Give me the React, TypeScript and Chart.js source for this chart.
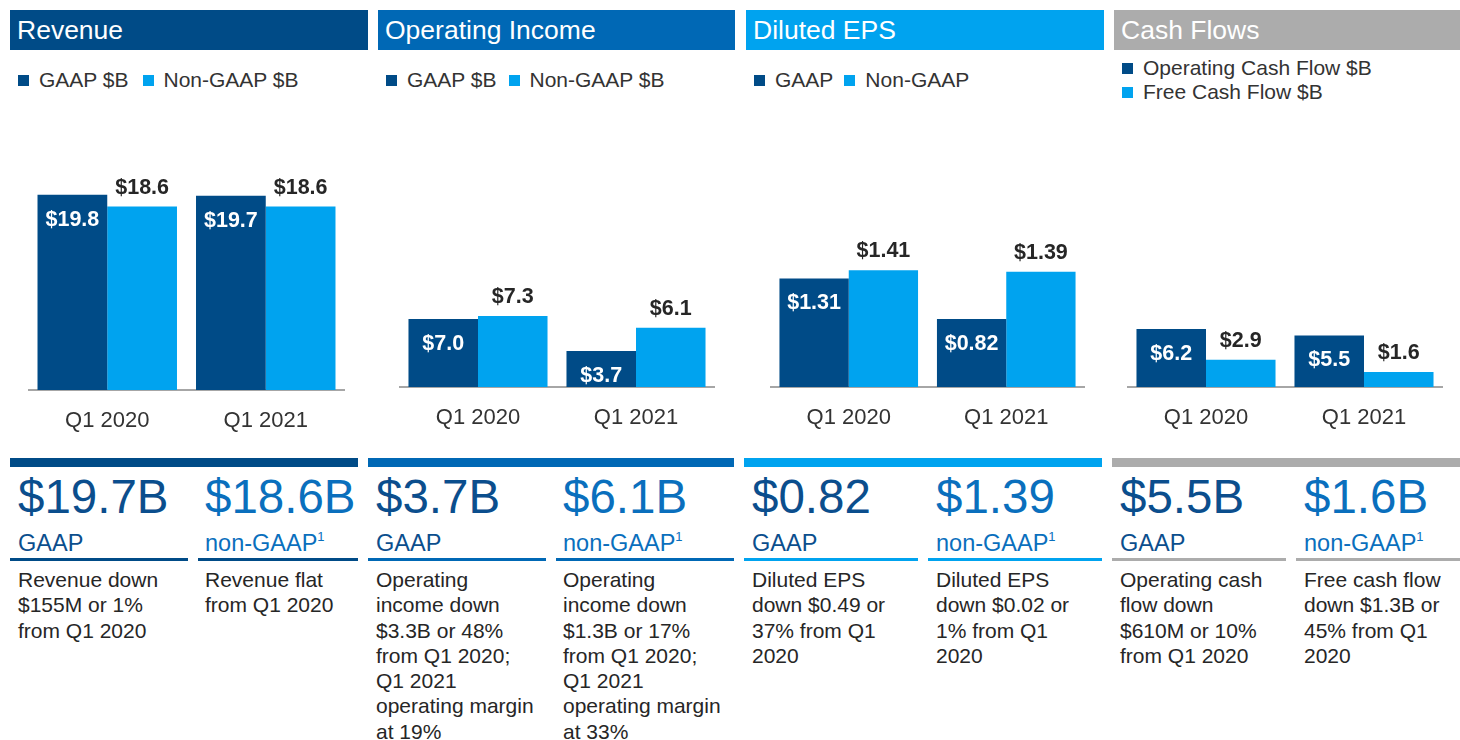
import React, { useEffect, useRef } from 'react';
import { Chart, registerables } from 'chart.js';

Chart.register(...registerables);

// ---------- data ----------
const quarters = ['Q1 2020', 'Q1 2021'];
const revenueGaap = [19.8, 19.7];
const revenueNonGaap = [18.6, 18.6];
const opIncomeGaap = [7.0, 3.7];
const opIncomeNonGaap = [7.3, 6.1];
const epsGaap = [1.31, 0.82];
const epsNonGaap = [1.41, 1.39];
const operatingCashFlow = [6.2, 5.5];
const freeCashFlow = [2.9, 1.6];

const panelTitles = ['Revenue', 'Operating Income', 'Diluted EPS', 'Cash Flows'];
const legendRevenue = ['GAAP $B', 'Non-GAAP $B'];
const legendOpIncome = ['GAAP $B', 'Non-GAAP $B'];
const legendEps = ['GAAP', 'Non-GAAP'];
const legendCash = ['Operating Cash Flow $B', 'Free Cash Flow $B'];

const headlineValues = ['$19.7B', '$18.6B', '$3.7B', '$6.1B', '$0.82', '$1.39', '$5.5B', '$1.6B'];
const descRevenueGaap = ['Revenue down', '$155M or 1%', 'from Q1 2020'];
const descRevenueNonGaap = ['Revenue flat', 'from Q1 2020'];
const descOpGaap = ['Operating', 'income down', '$3.3B or 48%', 'from Q1 2020;', 'Q1 2021', 'operating margin', 'at 19%'];
const descOpNonGaap = ['Operating', 'income down', '$1.3B or 17%', 'from Q1 2020;', 'Q1 2021', 'operating margin', 'at 33%'];
const descEpsGaap = ['Diluted EPS', 'down $0.49 or', '37% from Q1', '2020'];
const descEpsNonGaap = ['Diluted EPS', 'down $0.02 or', '1% from Q1', '2020'];
const descCashGaap = ['Operating cash', 'flow down', '$610M or 10%', 'from Q1 2020'];
const descCashNonGaap = ['Free cash flow', 'down $1.3B or', '45% from Q1', '2020'];

// ---------- styles ----------
const DARK = '#004B87';
const LIGHT = '#00A3EF';
const MID = '#0068B5';
const GRAY = '#ACACAC';
const GAAP_TEXT = '#0B4E8D';
const NONGAAP_TEXT = '#0A6FBD';
const FONT = "'Liberation Sans', Arial, Helvetica, sans-serif";

const valueLabelPlugin = {
  id: 'valueLabels',
  afterDatasetsDraw(chart: any, _args: any, opts: any) {
    const ctx = chart.ctx;
    const digits = opts && opts.digits != null ? opts.digits : 1;
    ctx.save();
    ctx.font = `bold 21.5px ${FONT}`;
    ctx.textAlign = 'center';
    ctx.textBaseline = 'middle';
    chart.data.datasets.forEach((ds: any, di: number) => {
      const meta = chart.getDatasetMeta(di);
      meta.data.forEach((bar: any, i: number) => {
        const text = '$' + Number(ds.data[i]).toFixed(digits);
        if (di === 0) {
          ctx.fillStyle = '#FFFFFF';
          ctx.fillText(text, bar.x, bar.y + 25);
        } else {
          ctx.fillStyle = '#262626';
          ctx.fillText(text, bar.x, bar.y - 19);
        }
      });
    });
    ctx.restore();
  },
};

type BarProps = {
  left: number;
  width: number;
  baseline: number;
  yMax: number;
  digits: number;
  gaap: number[];
  nonGaap: number[];
  gaapLabel: string;
  nonGaapLabel: string;
};

const CANVAS_TOP = 120;
const PAD_TOP = 30;
const AXIS_H = 50;

function BarChart(p: BarProps) {
  const ref = useRef<HTMLCanvasElement | null>(null);
  const height = p.baseline - CANVAS_TOP + AXIS_H;
  useEffect(() => {
    if (!ref.current) return;
    const chart = new Chart(ref.current, {
      type: 'bar',
      data: {
        labels: quarters,
        datasets: [
          { label: p.gaapLabel, data: p.gaap, backgroundColor: DARK, categoryPercentage: 0.88, barPercentage: 1 },
          { label: p.nonGaapLabel, data: p.nonGaap, backgroundColor: LIGHT, categoryPercentage: 0.88, barPercentage: 1 },
        ],
      },
      options: {
        responsive: false,
        maintainAspectRatio: false,
        animation: false,
        layout: { padding: { top: PAD_TOP, left: 0, right: 0, bottom: 0 } },
        plugins: {
          legend: { display: false },
          tooltip: { enabled: false },
          valueLabels: { digits: p.digits },
        } as any,
        scales: {
          x: {
            grid: { display: false },
            border: { display: true, color: '#A6A6A6', width: 2 },
            ticks: { font: { family: FONT, size: 22 }, color: '#333333', padding: 10 },
            afterFit: (s: any) => {
              s.height = AXIS_H;
            },
          },
          y: { display: false, min: 0, max: p.yMax },
        },
      },
      plugins: [valueLabelPlugin as any],
    });
    return () => chart.destroy();
  }, []);
  return (
    <canvas
      ref={ref}
      width={p.width}
      height={height}
      style={{ position: 'absolute', left: p.left, top: CANVAS_TOP, width: p.width, height }}
    />
  );
}

function Header({ x, w, color, title }: { x: number; w: number; color: string; title: string }) {
  return (
    <div
      style={{
        position: 'absolute',
        left: x,
        top: 10,
        width: w,
        height: 40,
        background: color,
        color: '#FFFFFF',
        fontSize: 26.5,
        lineHeight: '40px',
        paddingLeft: 7,
        boxSizing: 'border-box',
        whiteSpace: 'nowrap',
      }}
    >
      {title}
    </div>
  );
}

function LegendRow({ x, y, items, gap }: { x: number; y: number; items: string[]; gap: number }) {
  const colors = [DARK, LIGHT];
  return (
    <div style={{ position: 'absolute', left: x, top: y, height: 24, display: 'flex', alignItems: 'center', whiteSpace: 'nowrap' }}>
      {items.map((t, i) => (
        <div key={i} style={{ display: 'flex', alignItems: 'center', marginRight: i === 0 ? gap : 0 }}>
          <div style={{ width: 11, height: 11, background: colors[i], marginRight: 10 }} />
          <span style={{ fontSize: 21, color: '#333333', lineHeight: '24px' }}>{t}</span>
        </div>
      ))}
    </div>
  );
}

function StatColumn({
  x,
  ux0,
  ux1,
  lineColor,
  value,
  gaap,
  lines,
}: {
  x: number;
  ux0: number;
  ux1: number;
  lineColor: string;
  value: string;
  gaap: boolean;
  lines: string[];
}) {
  const c = gaap ? GAAP_TEXT : NONGAAP_TEXT;
  return (
    <>
      <div style={{ position: 'absolute', left: x, top: 473, fontSize: 47.5, lineHeight: '47.5px', color: c, whiteSpace: 'nowrap' }}>
        {value}
      </div>
      <div style={{ position: 'absolute', left: x, top: 532, fontSize: 23.5, lineHeight: '23.5px', color: c, whiteSpace: 'nowrap' }}>
        {gaap ? 'GAAP' : 'non-GAAP'}
        {!gaap && <span style={{ fontSize: 13, position: 'relative', top: -10 }}>1</span>}
      </div>
      <div style={{ position: 'absolute', left: ux0, top: 558, width: ux1 - ux0, height: 3, background: lineColor }} />
      <div style={{ position: 'absolute', left: x, top: 567, fontSize: 21, lineHeight: '25.3px', color: '#262626', whiteSpace: 'nowrap' }}>
        {lines.map((l, i) => (
          <div key={i}>{l}</div>
        ))}
      </div>
    </>
  );
}

export default function App() {
  return (
    <div
      style={{
        position: 'absolute',
        left: 0,
        top: 0,
        width: 1460,
        height: 740,
        overflow: 'hidden',
        background: '#FFFFFF',
        fontFamily: FONT,
      }}
    >
      {/* headers */}
      <Header x={10} w={358} color={DARK} title={panelTitles[0]} />
      <Header x={378} w={357} color={MID} title={panelTitles[1]} />
      <Header x={746} w={358} color={LIGHT} title={panelTitles[2]} />
      <Header x={1114} w={346} color={GRAY} title={panelTitles[3]} />

      {/* legends */}
      <LegendRow x={18} y={68} items={legendRevenue} gap={14} />
      <LegendRow x={386} y={68} items={legendOpIncome} gap={12} />
      <LegendRow x={754} y={68} items={legendEps} gap={11} />
      <div style={{ position: 'absolute', left: 1122, top: 56 }}>
        {legendCash.map((t, i) => (
          <div key={i} style={{ display: 'flex', alignItems: 'center', height: 24, whiteSpace: 'nowrap' }}>
            <div style={{ width: 11, height: 11, background: i === 0 ? DARK : LIGHT, marginRight: 10 }} />
            <span style={{ fontSize: 21, color: '#333333', lineHeight: '24px' }}>{t}</span>
          </div>
        ))}
      </div>

      {/* charts */}
      <BarChart left={28} width={317} baseline={390} yMax={24.34} digits={1} gaap={revenueGaap} nonGaap={revenueNonGaap} gaapLabel="GAAP $B" nonGaapLabel="Non-GAAP $B" />
      <BarChart left={399} width={316} baseline={387} yMax={24.4} digits={1} gaap={opIncomeGaap} nonGaap={opIncomeNonGaap} gaapLabel="GAAP $B" nonGaapLabel="Non-GAAP $B" />
      <BarChart left={770} width={315} baseline={387} yMax={2.86} digits={2} gaap={epsGaap} nonGaap={epsNonGaap} gaapLabel="GAAP" nonGaapLabel="Non-GAAP" />
      <BarChart left={1127} width={316} baseline={387} yMax={25.3} digits={1} gaap={operatingCashFlow} nonGaap={freeCashFlow} gaapLabel="Operating Cash Flow $B" nonGaapLabel="Free Cash Flow $B" />

      {/* bottom color bars */}
      <div style={{ position: 'absolute', left: 10, top: 458, width: 348, height: 9, background: DARK }} />
      <div style={{ position: 'absolute', left: 368, top: 458, width: 366, height: 9, background: MID }} />
      <div style={{ position: 'absolute', left: 744, top: 458, width: 358, height: 9, background: LIGHT }} />
      <div style={{ position: 'absolute', left: 1112, top: 458, width: 348, height: 9, background: GRAY }} />

      {/* stat columns */}
      <StatColumn x={18} ux0={10} ux1={188} lineColor={DARK} value={headlineValues[0]} gaap lines={descRevenueGaap} />
      <StatColumn x={205} ux0={198} ux1={358} lineColor={DARK} value={headlineValues[1]} gaap={false} lines={descRevenueNonGaap} />
      <StatColumn x={376} ux0={368} ux1={546} lineColor={MID} value={headlineValues[2]} gaap lines={descOpGaap} />
      <StatColumn x={563} ux0={556} ux1={734} lineColor={MID} value={headlineValues[3]} gaap={false} lines={descOpNonGaap} />
      <StatColumn x={752} ux0={744} ux1={918} lineColor={LIGHT} value={headlineValues[4]} gaap lines={descEpsGaap} />
      <StatColumn x={936} ux0={928} ux1={1102} lineColor={LIGHT} value={headlineValues[5]} gaap={false} lines={descEpsNonGaap} />
      <StatColumn x={1120} ux0={1112} ux1={1286} lineColor={GRAY} value={headlineValues[6]} gaap lines={descCashGaap} />
      <StatColumn x={1304} ux0={1296} ux1={1460} lineColor={GRAY} value={headlineValues[7]} gaap={false} lines={descCashNonGaap} />
    </div>
  );
}
